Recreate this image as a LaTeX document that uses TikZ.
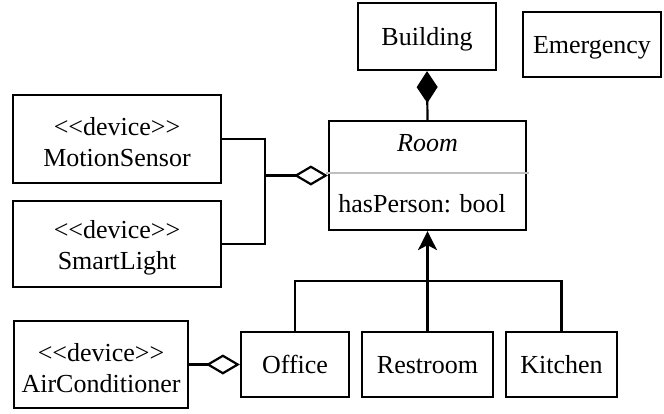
\documentclass[tikz,border=0pt]{standalone}
\usepackage{fontspec}
\setmainfont{Liberation Serif}
\usepackage{tikz}
\usetikzlibrary{arrows.meta}
\newcommand{\stereo}[1]{\rule{0pt}{12.4pt}<{}<#1>{}>}

\tikzset{
  umlbox/.style={draw, line width=1.1pt, inner sep=0pt, text depth=0pt},
  devbox/.style={draw, line width=1.1pt, inner sep=0pt, align=center},
  link/.style={line width=1.1pt},
  aggr/.style={link, -{Diamond[open, length=17pt, width=10pt]}},
  comp/.style={link, -{Diamond[length=16pt, width=10.5pt]}},
  inherit/.style={link, -{Stealth[length=9.5pt, width=9.5pt, inset=2.5pt]}},
}

\begin{document}
\begin{tikzpicture}[x=0.5pt, y=-0.5pt, font=\fontsize{13}{15.5}\selectfont]
\useasboundingbox (0,0) rectangle (664,413);
\node[umlbox, minimum width=69pt, minimum height=33.5pt] (building) at (427,36.5) {Building};
\node[umlbox, minimum width=69pt, minimum height=32.5pt] (emergency) at (592,44.5) {Emergency};
\node[umlbox, minimum width=98.5pt, minimum height=54.5pt] (room) at (427.5,175.5) {};
\node[anchor=base] (roomname) at (427.5,151.5) {\textit{Room}};
\node[anchor=base west, inner sep=0pt] (roomattr) at (338,212) {hasPerson: bool};
\draw[gray!50, line width=1pt] ([xshift=-1pt, yshift=1.25pt]room.west) -- ([xshift=1pt, yshift=1.25pt]room.east);
\node[devbox, minimum width=104pt, minimum height=44pt] (motion) at (117,139) {\stereo{device}\\MotionSensor};
\node[devbox, minimum width=104pt, minimum height=43pt] (smart) at (117,244) {\stereo{device}\\SmartLight};
\node[devbox, minimum width=87pt, minimum height=43.5pt] (aircon) at (101,364.5) {\stereo{device}\\AirConditioner};
\node[umlbox, minimum width=54pt, minimum height=32.5pt] (office) at (295,364.5) {Office};
\node[umlbox, minimum width=65.5pt, minimum height=32.5pt] (restroom) at (427.5,364.5) {Restroom};
\node[umlbox, minimum width=55.5pt, minimum height=32.5pt] (kitchen) at (561.5,364.5) {Kitchen};
\draw[comp] (room.north) -- (building.south);
\coordinate (devjoin) at (265,175.5);
\draw[link] (motion.east) -| (devjoin);
\draw[link] (smart.east) -| (devjoin);
\draw[aggr] (devjoin) -- (room.west);
\draw[aggr] (aircon.east) -- (office.west);
\coordinate (genbus) at (427.5,281);
\draw[link] (office.north) |- (genbus) -| (kitchen.north);
\draw[inherit] (restroom.north) -- (room.south);
\end{tikzpicture}
\end{document}
